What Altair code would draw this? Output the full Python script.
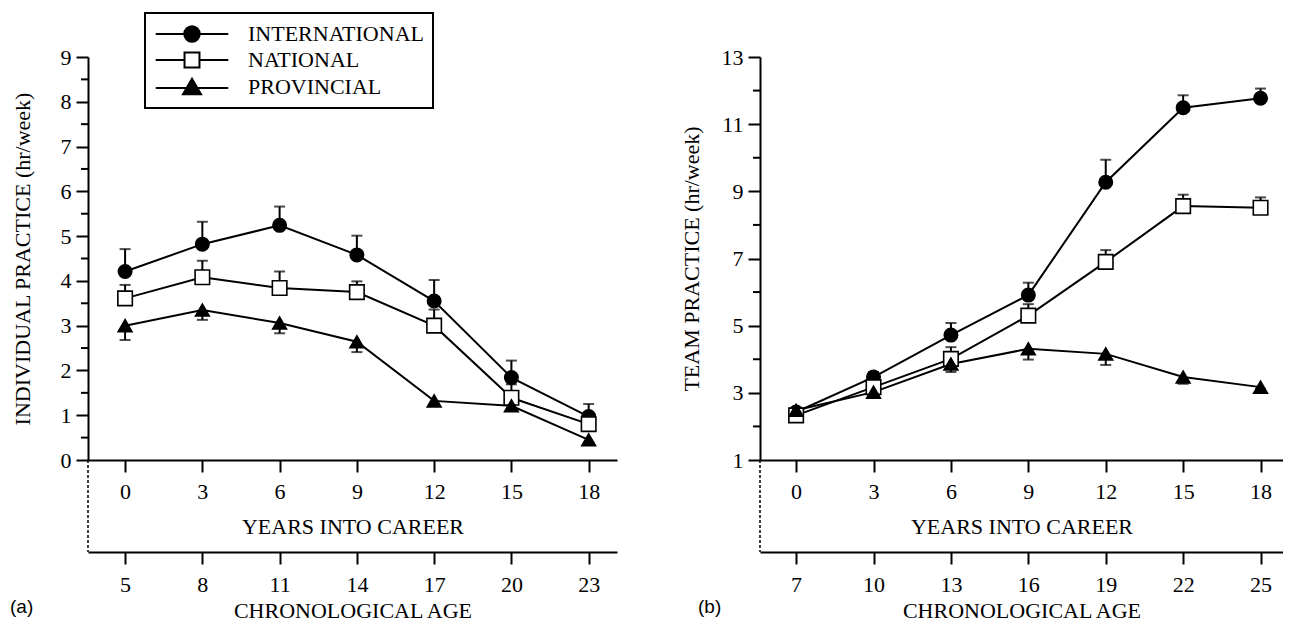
import altair as alt
import pandas as pd

# ---------------- data ----------------
years = [0, 3, 6, 9, 12, 15, 18]
ages_a = [5, 8, 11, 14, 17, 20, 23]
ages_b = [7, 10, 13, 16, 19, 22, 25]
series = ["INTERNATIONAL", "NATIONAL", "PROVINCIAL"]
err_dir = [1, 1, -1]  # error bars drawn upward / downward

ind_int = [4.21, 4.82, 5.24, 4.58, 3.55, 1.84, 0.97]
ind_int_err = [0.50, 0.50, 0.42, 0.43, 0.47, 0.38, 0.28]
ind_nat = [3.61, 4.08, 3.84, 3.75, 3.00, 1.39, 0.80]
ind_nat_err = [0.30, 0.37, 0.37, 0.24, 0.36, 0.30, 0.20]
ind_prov = [3.00, 3.35, 3.06, 2.64, 1.32, 1.21, 0.45]
ind_prov_err = [0.32, 0.22, 0.23, 0.23, 0.08, 0.08, 0.05]

team_int = [2.43, 3.47, 4.72, 5.91, 9.27, 11.49, 11.77]
team_int_err = [0.12, 0.15, 0.36, 0.37, 0.67, 0.37, 0.29]
team_nat = [2.33, 3.17, 4.01, 5.30, 6.90, 8.56, 8.51]
team_nat_err = [0.10, 0.12, 0.35, 0.34, 0.35, 0.34, 0.31]
team_prov = [2.48, 3.02, 3.86, 4.31, 4.16, 3.47, 3.17]
team_prov_err = [0.10, 0.10, 0.24, 0.32, 0.33, 0.20, 0.05]

yticks_a = [0, 1, 2, 3, 4, 5, 6, 7, 8, 9]
yminor_a = [0.5, 1.5, 2.5, 3.5, 4.5, 5.5, 6.5, 7.5, 8.5]
yticks_b = [1, 3, 5, 7, 9, 11, 13]
yminor_b = [2, 4, 6, 8, 10, 12]

FONT = "Liberation Serif"
H = 403
AGE_OFFSET = 92

legend_paths = [
    "M-3.3,0H3.3M0.7,0A0.7,0.7,0,1,1,-0.7,0A0.7,0.7,0,1,1,0.7,0Z",
    "M-3.3,0H-0.68M0.68,0H3.3M-0.68,-0.68H0.68V0.68H-0.68Z",
    "M-3.3,0.1H3.3M0,-0.75L0.82,0.65H-0.82Z",
]
point_styles = [("circle", "black", 180), ("square", "white", 210), ("triangle-up", "black", 190)]


def make_legend():
    return alt.Legend(
        title=None, orient="none", legendX=57, legendY=-44,
        strokeColor="black", padding=9, rowPadding=2,
        symbolSize=484, symbolOffset=26, labelOffset=44, labelLimit=0,
        labelFont=FONT, labelFontSize=22, labelColor="black",
        symbolStrokeWidth=2, symbolOpacity=1)


def panel(vals, errs, ydom, yticks, yminor, ytitle, ytitlepad, ages, xdom, width,
          tag, tagx, legend):
    rows = []
    for s, v, e, d in zip(series, vals, errs, err_dir):
        for yr, ag, vi, ei in zip(years, ages, v, e):
            rows.append(dict(year=yr, age=ag, series=s, value=vi, err_end=vi + d * ei))
    df = pd.DataFrame(rows)

    xscale = alt.Scale(domain=xdom, nice=False, zero=False)
    yscale = alt.Scale(domain=ydom, nice=False, zero=False)
    xax = alt.Axis(values=years, title="YEARS INTO CAREER", labelPadding=9,
                   titlePadding=14, grid=False)
    yax = alt.Axis(values=yticks, title=ytitle, titlePadding=ytitlepad,
                   labelPadding=5, grid=False)
    xenc = alt.X("year:Q", scale=xscale, axis=xax)
    yenc = alt.Y("value:Q", scale=yscale, axis=yax)

    base = alt.Chart(df)
    lines = base.mark_line(color="black", strokeWidth=2).encode(
        x=xenc, y=yenc, detail="series:N")
    errbar = base.mark_rule(color="black", strokeWidth=2).encode(
        x=xenc, y=yenc, y2="err_end:Q")
    caps = base.mark_tick(color="black", thickness=2, size=11, orient="horizontal").encode(
        x=xenc, y=alt.Y("err_end:Q", scale=yscale, axis=yax))
    layers = [lines, errbar, caps]
    for s, (shp, fill, size) in zip(series, point_styles):
        layers.append(
            base.transform_filter(alt.datum.series == s)
            .mark_point(shape=shp, filled=True, fill=fill, stroke="black",
                        strokeWidth=1.6, size=size, opacity=1)
            .encode(x=xenc, y=yenc)
        )
    minor = alt.Chart(pd.DataFrame({"value": yminor})).mark_rule(
        color="black", strokeWidth=2).encode(y=yenc, x=alt.value(0), x2=alt.value(-7))
    dash = alt.Chart(pd.DataFrame({"a": [0]})).mark_rule(
        color="black", strokeWidth=1.5, strokeDash=[3, 2]).encode(
        x=alt.value(0), y=alt.value(H), y2=alt.value(H + AGE_OFFSET))
    label = alt.Chart(pd.DataFrame({"t": [tag]})).mark_text(
        font="Liberation Sans", fontSize=19, align="left", baseline="middle",
        color="black").encode(text="t:N", x=alt.value(tagx), y=alt.value(550))
    layers += [minor, dash, label]

    if legend:
        leg = alt.Chart(pd.DataFrame({"series_l": series})).transform_filter(
            "false").mark_point(filled=True, strokeWidth=2, opacity=1).encode(
            shape=alt.Shape("series_l:N",
                            scale=alt.Scale(domain=series, range=legend_paths),
                            legend=make_legend()),
            fill=alt.Fill("series_l:N",
                          scale=alt.Scale(domain=series, range=["black", "white", "black"]),
                          legend=make_legend()),
            stroke=alt.Stroke("series_l:N",
                              scale=alt.Scale(domain=series, range=["black", "black", "black"]),
                              legend=make_legend()),
        )
        layers.append(leg)

    inner = alt.layer(*layers)

    age_dom = [xdom[0] + ages[0], xdom[1] + ages[0]]
    age_layer = alt.Chart(pd.DataFrame({"age": ages})).mark_point(opacity=0).encode(
        x=alt.X("age:Q", scale=alt.Scale(domain=age_dom, nice=False, zero=False),
                axis=alt.Axis(values=ages, title="CHRONOLOGICAL AGE", orient="bottom",
                              offset=AGE_OFFSET, labelPadding=10, titlePadding=5,
                              grid=False)))
    return alt.layer(inner, age_layer).resolve_scale(x="independent").properties(
        width=width, height=H)


left = panel([ind_int, ind_nat, ind_prov], [ind_int_err, ind_nat_err, ind_prov_err],
             [0, 9], yticks_a, yminor_a, "INDIVIDUAL PRACTICE (hr/week)", 26,
             ages_a, [-1.44, 19.1], 529, "(a)", -78, True)
right = panel([team_int, team_nat, team_prov], [team_int_err, team_nat_err, team_prov_err],
              [1, 13], yticks_b, yminor_b, "TEAM PRACTICE (hr/week)", 18,
              ages_b, [-1.4, 18.87], 523, "(b)", -62, False)

chart = alt.hconcat(left, right, spacing=63).configure_axis(
    domainColor="black", domainWidth=2, tickColor="black", tickWidth=2, tickSize=12,
    labelFont=FONT, labelFontSize=22, labelColor="black",
    titleFont=FONT, titleFontSize=22, titleFontWeight="normal", titleColor="black",
).configure_legend(strokeWidth=2).configure_view(stroke=None).properties(
    padding={"left": 2, "top": 4, "right": 0, "bottom": 0})

chart.save("out.html", embed_options={"renderer": "svg", "actions": False})
